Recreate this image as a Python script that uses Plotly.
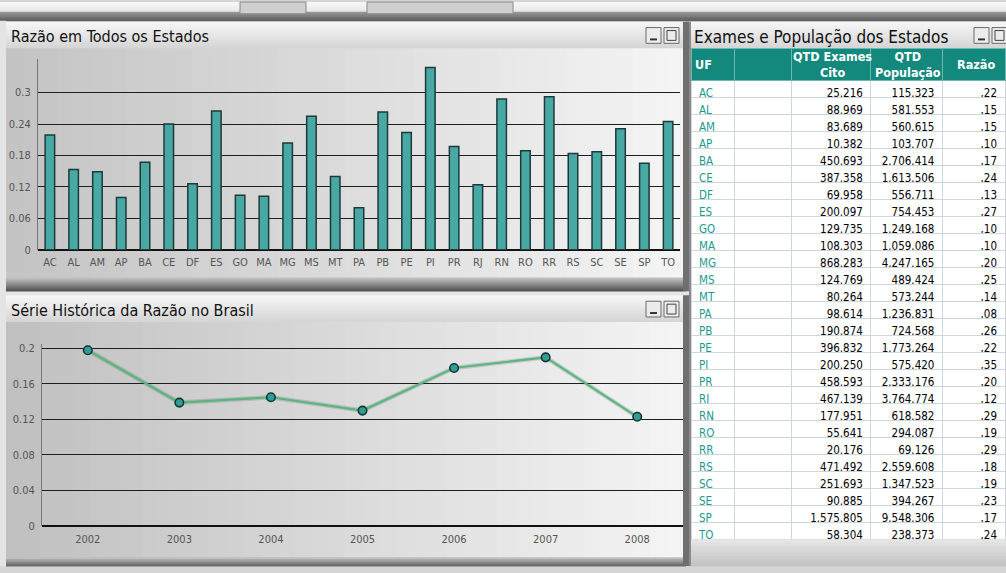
import plotly.graph_objects as go

W, H = 1006, 573

# ---------------- data ----------------
states = ["AC", "AL", "AM", "AP", "BA", "CE", "DF", "ES", "GO", "MA", "MG", "MS", "MT", "PA",
          "PB", "PE", "PI", "PR", "RJ", "RN", "RO", "RR", "RS", "SC", "SE", "SP", "TO"]
ratio_state = [0.219, 0.153, 0.149, 0.100, 0.167, 0.240, 0.126, 0.265, 0.104, 0.102, 0.204,
               0.255, 0.140, 0.080, 0.263, 0.224, 0.348, 0.197, 0.124, 0.288, 0.189, 0.292,
               0.184, 0.187, 0.231, 0.165, 0.245]
bar_ticks = [0, 0.06, 0.12, 0.18, 0.24, 0.3]
bar_ticktext = ["0", "0.06", "0.12", "0.18", "0.24", "0.3"]

years = ["2002", "2003", "2004", "2005", "2006", "2007", "2008"]
ratio_year = [0.198, 0.139, 0.145, 0.130, 0.178, 0.190, 0.123]
line_ticks = [0, 0.04, 0.08, 0.12, 0.16, 0.2]
line_ticktext = ["0", "0.04", "0.08", "0.12", "0.16", "0.2"]

tbl_exames = ["25.216", "88.969", "83.689", "10.382", "450.693", "387.358", "69.958", "200.097",
              "129.735", "108.303", "868.283", "124.769", "80.264", "98.614", "190.874", "396.832",
              "200.250", "458.593", "467.139", "177.951", "55.641", "20.176", "471.492", "251.693",
              "90.885", "1.575.805", "58.304"]
tbl_pop = ["115.323", "581.553", "560.615", "103.707", "2.706.414", "1.613.506", "556.711",
           "754.453", "1.249.168", "1.059.086", "4.247.165", "489.424", "573.244", "1.236.831",
           "724.568", "1.773.264", "575.420", "2.333.176", "3.764.774", "618.582", "294.087",
           "69.126", "2.559.608", "1.347.523", "394.267", "9.548.306", "238.373"]
tbl_razao = [",22", ",15", ",15", ",10", ",17", ",24", ",13", ",27", ",10", ",10", ",20", ",25",
             ",14", ",08", ",26", ",22", ",35", ",20", ",12", ",29", ",19", ",29", ",18", ",19",
             ",23", ",17", ",24"]
tbl_header = ["UF", "", "QTD Exames<br>Cito", "QTD<br>População", "Razão"]

titles = ["Razão em Todos os Estados", "Série Histórica da Razão no Brasil",
          "Exames e População dos Estados"]

FONT = "DejaVu Sans Condensed"


def fx(px):
    return px / W


def fy(py):
    return 1 - py / H


shapes = []


def mix(c0, c1, t):
    return "rgb(%d,%d,%d)" % tuple(round(a + (b - a) * t) for a, b in zip(c0, c1))


def rect(x0, y0, x1, y1, fill, line=None, lw=0):
    shapes.append(dict(type="rect", xref="paper", yref="paper", x0=fx(x0), x1=fx(x1),
                       y0=fy(y1), y1=fy(y0), fillcolor=fill, layer="below",
                       line=dict(width=lw, color=line or fill)))


def hgrad(x0, y0, x1, y1, c0, c1, n=40):
    step = (x1 - x0) / n
    for i in range(n):
        rect(x0 + i * step, y0, x0 + (i + 1) * step + 0.6, y1, mix(c0, c1, i / (n - 1)))


def vgrad(x0, y0, x1, y1, c0, c1, n=12):
    step = (y1 - y0) / n
    for i in range(n):
        rect(x0, y0 + i * step, x1, y0 + (i + 1) * step + 0.6, mix(c0, c1, i / (n - 1)))


# page background / top strip
rect(0, 0, W, H, "#d6d6d6")
vgrad(0, 0, W, 10, (246, 246, 246), (232, 232, 232), 4)
vgrad(0, 10, W, 19, (150, 150, 150), (95, 95, 95), 6)
for (a, b) in [(240, 306), (367, 513)]:
    rect(a, 0, b, 12, "#cfcfcf", "#8a8a8a", 1)

# left strip
rect(0, 19, 6, H, "#e4e4e4")

# ---- panel 1 (bar chart)
vgrad(6, 20, 686, 47, (246, 246, 246), (214, 214, 214), 10)
hgrad(6, 47, 684, 283, (196, 196, 196), (244, 244, 244), 40)
vgrad(6, 280, 686, 294, (190, 190, 190), (85, 85, 85), 7)
rect(683, 20, 689, 294, "#6f6f6f")

# ---- panel 2 (line chart)
rect(6, 294, 689, 298, "#e6e6e6")
vgrad(6, 298, 686, 325, (246, 246, 246), (214, 214, 214), 10)
hgrad(6, 325, 684, 566, (192, 192, 192), (244, 244, 244), 40)
vgrad(6, 564, 686, 573, (190, 190, 190), (110, 110, 110), 4)
rect(683, 298, 689, 573, "#6f6f6f")

# ---- right panel (table)
vgrad(689, 20, W, 47, (246, 246, 246), (214, 214, 214), 10)
rect(689, 47, W, 541, "#ffffff")
vgrad(689, 539, W, H, (238, 238, 238), (196, 196, 196), 10)
rect(689, 20, 691, H, "#8a8a8a")

# window icons
for (ix, iy) in [(646, 26), (646, 304), (974, 26)]:
    rect(ix, iy, ix + 15, iy + 16, "#ececec", "#6a6a6a", 1)
    rect(ix + 4, iy + 11, ix + 11, iy + 13, "#333333", "#333333", 0)
    rect(ix + 18, iy, ix + 33, iy + 16, "#ececec", "#6a6a6a", 1)
    rect(ix + 21, iy + 3, ix + 30, iy + 13, "#ececec", "#444444", 1)

fig = go.Figure()

# bar chart
fig.add_trace(go.Bar(x=states, y=ratio_state, xaxis="x", yaxis="y",
                     marker=dict(color="#48a8a3", line=dict(color="#1d3a39", width=1.5)),
                     hoverinfo="x+y"))

# line chart: soft shadow, line, markers
fig.add_trace(go.Scatter(x=years, y=ratio_year, xaxis="x2", yaxis="y2", mode="lines",
                         line=dict(color="rgba(30,50,40,0.16)", width=4.5), hoverinfo="skip"))
fig.add_trace(go.Scatter(x=years, y=ratio_year, xaxis="x2", yaxis="y2", mode="lines+markers",
                         line=dict(color="#58b67e", width=2.2),
                         marker=dict(size=8.5, color="#2f9e96", line=dict(color="#163634", width=1.6))))

# table (header text drawn as annotations so the two-line header keeps its height)
col_w = [44, 57, 80, 72, 63]
HEAD_TOP, HEAD_H = 47, 32
fig.add_trace(go.Table(
    domain=dict(x=[fx(691), 1.0], y=[fy(546), fy(HEAD_TOP)]),
    columnwidth=col_w,
    header=dict(values=[""] * len(tbl_header),
                fill_color="#13887d", line_color="#6db8b0", height=HEAD_H,
                font=dict(family=FONT, size=6, color="white")),
    cells=dict(values=[states, [""] * len(states), tbl_exames, tbl_pop, tbl_razao],
               fill_color="white", line_color="#cdd6de",
               align=["left", "left", "right", "right", "right"],
               font=dict(family=FONT, size=11.5,
                         color=["#1a9a8e", "#000000", "#000000", "#000000", "#000000"]),
               height=17)))

annotations = [
    dict(text=titles[0], x=fx(9), y=fy(35), xref="paper", yref="paper", xanchor="left",
         yanchor="middle", showarrow=False, font=dict(family=FONT, size=16, color="#111111")),
    dict(text=titles[1], x=fx(9), y=fy(313), xref="paper", yref="paper", xanchor="left",
         yanchor="middle", showarrow=False, font=dict(family=FONT, size=16, color="#111111")),
    dict(text=titles[2], x=fx(692), y=fy(36), xref="paper", yref="paper", xanchor="left",
         yanchor="middle", showarrow=False, font=dict(family=FONT, size=17, color="#111111")),
]
edges = [691]
for w in col_w:
    edges.append(edges[-1] + w)
for i, h in enumerate(tbl_header):
    if not h:
        continue
    if i == 0:
        ax, anc = edges[0] + 2, "left"
    else:
        ax, anc = (edges[i] + edges[i + 1]) / 2, "center"
    annotations.append(dict(text="<b>%s</b>" % h, x=fx(ax), y=fy(HEAD_TOP + HEAD_H / 2),
                            xref="paper", yref="paper", xanchor=anc, yanchor="middle",
                            showarrow=False, align="center",
                            font=dict(family=FONT, size=12.5, color="white")))

tickfont = dict(family=FONT, size=11, color="#555555")
fig.update_layout(
    width=W, height=H, margin=dict(l=0, r=0, t=0, b=0),
    paper_bgcolor="#d6d6d6", plot_bgcolor="rgba(0,0,0,0)",
    showlegend=False, bargap=0.6, shapes=shapes, annotations=annotations,
    xaxis=dict(domain=[fx(38), fx(680)], anchor="y", tickfont=tickfont, showgrid=False,
               ticks="", fixedrange=True, ticklabelstandoff=4),
    yaxis=dict(domain=[fy(251.7), fy(57.5)], anchor="x", range=[0, 0.365],
               tickvals=bar_ticks, ticktext=bar_ticktext, tickfont=tickfont,
               showgrid=True, gridcolor="#1e1e1e", gridwidth=1.3,
               zeroline=True, zerolinecolor="#111111", zerolinewidth=2,
               showline=True, linecolor="#777777", linewidth=1, ticks="", ticklabelstandoff=4),
    xaxis2=dict(domain=[fx(42), fx(683)], anchor="y2", tickfont=tickfont, showgrid=False,
                ticks="", range=[-0.5, 6.5], type="category", ticklabelstandoff=5),
    yaxis2=dict(domain=[fy(532.3), fy(347.5)], anchor="x2", range=[0, 0.205],
                tickvals=line_ticks, ticktext=line_ticktext, tickfont=tickfont,
                showgrid=True, gridcolor="#1e1e1e", gridwidth=1.3,
                zeroline=True, zerolinecolor="#111111", zerolinewidth=2,
                showline=True, linecolor="#777777", linewidth=1, ticks="", ticklabelstandoff=4),
)

fig.write_html("out.html", config={"displayModeBar": False},
               post_script="document.body.style.margin='0';"
                           "document.body.style.overflow='hidden';")
